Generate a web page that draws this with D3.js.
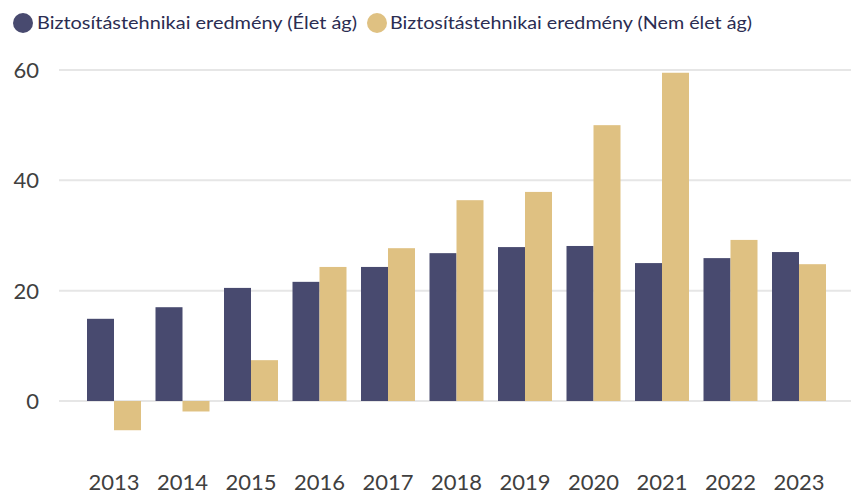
<!DOCTYPE html>
<html>
<head>
<meta charset="utf-8">
<script src="https://cdn.jsdelivr.net/npm/d3@7"></script>
<style>
  body { margin: 0; background: #fff; }
  text { font-family: Lato, "Open Sans", sans-serif; }
</style>
</head>
<body>
<div class="chart"></div>
<script>
// data
var years = ["2013", "2014", "2015", "2016", "2017", "2018", "2019", "2020", "2021", "2022", "2023"];
var elet = [14.9, 17.0, 20.5, 21.6, 24.3, 26.8, 27.9, 28.1, 25.0, 25.9, 27.0];
var nemElet = [-5.3, -1.9, 7.4, 24.3, 27.7, 36.4, 37.9, 50.0, 59.5, 29.2, 24.8];
var seriesNames = ["Biztosítástehnikai eredmény (Élet ág)", "Biztosítástehnikai eredmény (Nem élet ág)"];
var colors = ["#484a6f", "#dfc182"];
var yTicks = [0, 20, 40, 60];

var width = 851, height = 494;

var svg = d3.select("div.chart")
    .append("svg")
    .attr("width", width)
    .attr("height", height);

// scales
var y = d3.scaleLinear()
    .domain([0, 60])
    .range([401, 70]);

var x = d3.scaleBand()
    .domain(years)
    .range([79.75, 833.25])
    .paddingInner(0);

var barW = 27;

// gridlines
svg.append("g")
    .selectAll("line")
    .data(yTicks)
    .enter().append("line")
    .attr("x1", 59)
    .attr("x2", width)
    .attr("y1", function (d) { return y(d); })
    .attr("y2", function (d) { return y(d); })
    .attr("stroke", "#e6e6e6")
    .attr("stroke-width", 2);

// y labels
svg.append("g")
    .selectAll("text")
    .data(yTicks)
    .enter().append("text")
    .attr("x", 39)
    .attr("y", function (d) { return y(d) + 8; })
    .attr("text-anchor", "end")
    .attr("fill", "#404040")
    .style("font-size", "22px")
    .text(function (d) { return d; });

// bars
var rows = years.map(function (yr, i) { return { year: yr, vals: [elet[i], nemElet[i]] }; });

var groups = svg.append("g")
    .selectAll("g")
    .data(rows)
    .enter().append("g")
    .attr("transform", function (d) { return "translate(" + (x(d.year) + x.bandwidth() / 2 - barW) + ",0)"; });

groups.selectAll("rect")
    .data(function (d) { return d.vals; })
    .enter().append("rect")
    .attr("x", function (d, i) { return i * barW; })
    .attr("width", barW)
    .attr("y", function (d) { return y(Math.max(0, d)); })
    .attr("height", function (d) { return Math.abs(y(d) - y(0)); })
    .attr("fill", function (d, i) { return colors[i]; });

// x labels
svg.append("g")
    .selectAll("text")
    .data(years)
    .enter().append("text")
    .attr("x", function (d) { return x(d) + x.bandwidth() / 2; })
    .attr("y", 490)
    .attr("text-anchor", "middle")
    .attr("fill", "#404040")
    .style("font-size", "22px")
    .text(function (d) { return d; });

// legend
var legend = [
    { cx: 23, tx: 37, w: 320 },
    { cx: 377, tx: 390, w: 362 }
];
legend.forEach(function (l, i) {
    svg.append("circle")
        .attr("cx", l.cx)
        .attr("cy", 23)
        .attr("r", 10)
        .attr("fill", colors[i]);
    svg.append("text")
        .attr("x", l.tx)
        .attr("y", 29)
        .attr("fill", "#2b2d52")
        .style("font-size", "18px")
        .attr("textLength", l.w)
        .attr("lengthAdjust", "spacingAndGlyphs")
        .text(seriesNames[i]);
});
</script>
</body>
</html>
